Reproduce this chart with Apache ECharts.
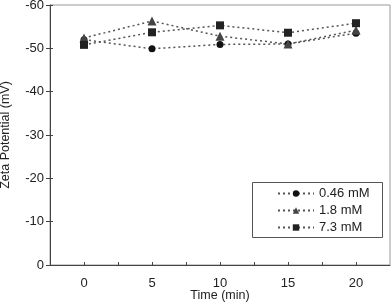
<!DOCTYPE html>
<html><head><meta charset="utf-8">
<script src="https://cdn.jsdelivr.net/npm/echarts@6/dist/echarts.min.js"></script>
<style>html,body{margin:0;padding:0;background:#fff}#c{width:392px;height:303px}</style>
</head><body><div id="c"></div>
<script>
var times = [0, 5, 10, 15, 20];
var s046 = [-52.0, -49.9, -50.9, -51.0, -53.5];
var s18 = [-52.4, -56.3, -52.8, -51.0, -54.2];
var s73 = [-50.8, -53.7, -55.3, -53.6, -55.8];
var names = ['0.46 mM', '1.8 mM', '7.3 mM'];
var yTicks = [-60, -50, -40, -30, -20, -10, 0];

function pairs(v){ return times.map(function(t,i){ return [t, v[i]]; }); }
var chart = echarts.init(document.getElementById('c'), null, {renderer:'canvas'});
var font = 'Liberation Sans, Arial, sans-serif';
function ser(name, data, symbol, size, color){
  return {name:name, type:'line', data:pairs(data), symbol:symbol, symbolSize:size,
    itemStyle:{color:color}, lineStyle:{color:'#555', width:1.5, type:[2,3]},
    z: 3, animation:false};
}
chart.setOption({
  animation:false,
  textStyle:{fontFamily:font},
  grid:{left:50, right:2, top:5, bottom:38, containLabel:false, outerBoundsMode:'none',
    show:true, borderColor:'#999', borderWidth:1, backgroundColor:'#fff'},
  xAxis:{type:'value', min:-2.5, max:22.5, interval:2.5,
    name:'Time (min)', nameLocation:'middle', nameGap:24, nameMoveOverlap:false,
    nameTextStyle:{color:'#222', fontSize:12.5, fontFamily:font},
    axisLine:{onZero:false, lineStyle:{color:'#444', width:1}},
    axisTick:{inside:true, length:3, lineStyle:{color:'#444'}},
    axisLabel:{color:'#222', fontSize:13, margin:12, fontFamily:font, showMinLabel:false, showMaxLabel:false,
      formatter:function(v){ return (Math.abs(v % 5) < 1e-9) ? String(v) : ''; }},
    splitLine:{show:false}},
  yAxis:[{type:'value', min:yTicks[0], max:yTicks[yTicks.length-1], interval:10, inverse:true,
    name:'Zeta Potential (mV)', nameLocation:'middle', nameGap:38, nameRotate:90, nameMoveOverlap:false,
    nameTextStyle:{color:'#222', fontSize:12.5, fontFamily:font},
    axisLine:{onZero:false, lineStyle:{color:'#444', width:1}},
    axisTick:{length:4, lineStyle:{color:'#444'}},
    axisLabel:{color:'#222', fontSize:13, margin:6, fontFamily:font},
    splitLine:{show:false}},
    {type:'value', min:yTicks[0], max:yTicks[yTicks.length-1], interval:10, inverse:true, position:'left',
    axisLine:{show:false, onZero:false}, axisTick:{inside:true, length:3, lineStyle:{color:'#444'}},
    axisLabel:{show:false}, splitLine:{show:false}}],
  legend:{orient:'vertical', left:277, top:187, itemWidth:36, itemHeight:8, itemGap:4,
    padding:0, data:names, textStyle:{color:'#222', fontSize:13, fontFamily:font}},
  graphic:[{type:'rect', left:252, top:182, shape:{width:130, height:55}, style:{fill:'#fff', stroke:'#555', lineWidth:1}, z:1}],
  series:[
    ser(names[0], s046, 'circle', 7, '#111'),
    ser(names[1], s18, 'triangle', 9, '#444'),
    ser(names[2], s73, 'rect', 8, '#222')
  ]
});
</script></body></html>
